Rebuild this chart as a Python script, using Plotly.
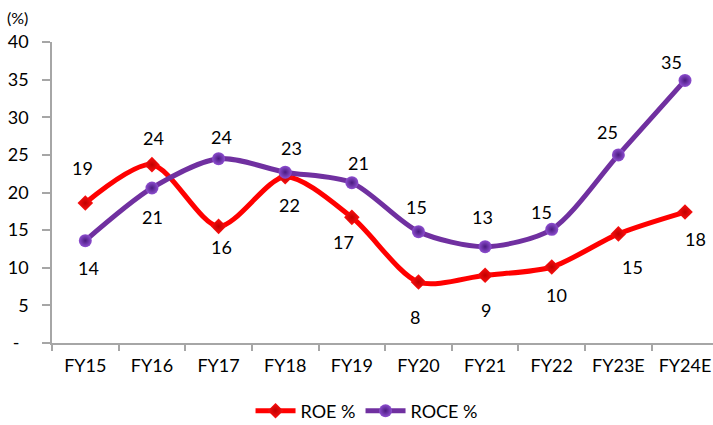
import plotly.graph_objects as go

categories = ["FY15", "FY16", "FY17", "FY18", "FY19", "FY20", "FY21", "FY22", "FY23E", "FY24E"]
roe = [18.6, 23.7, 15.5, 22.1, 16.7, 8.1, 9.0, 10.1, 14.5, 17.4]
roce = [13.6, 20.6, 24.5, 22.7, 21.3, 14.8, 12.8, 15.1, 25.0, 34.9]
roe_labels = ["19", "24", "16", "22", "17", "8", "9", "10", "15", "18"]
roce_labels = ["14", "21", "24", "23", "21", "15", "13", "15", "25", "35"]
y_ticks = [0, 5, 10, 15, 20, 25, 30, 35, 40]
y_tick_text = ["-\u00a0\u00a0", "5", "10", "15", "20", "25", "30", "35", "40"]

# label placement (style): pixel shifts from each point
ROE_DX = [-3, 2, 3, 4, -8, -3, 1, 5, 14, 10]
ROE_DY = [35, 27, -21, -28, -25, -35, -35, -28, -33, -27]
ROCE_DX = [3, 1, 3, 6, 7, -2, -3, -10, -11, -14]
ROCE_DY = [-27, -29, 22, 24, 20, 25, 30, 17, 23, 18]

FONT = "Lato, Carlito, Calibri, sans-serif"
FS = 18

fig = go.Figure()
fig.add_trace(go.Scatter(
    x=categories, y=roe, name="ROE %", mode="lines+markers",
    line=dict(color="#FF0000", width=5, shape="spline", smoothing=0.8),
    marker=dict(symbol="diamond", size=12, color="#FF1010",
                gradient=dict(type="radial", color="#C00000")),
))
fig.add_trace(go.Scatter(
    x=categories, y=roce, name="ROCE %", mode="lines+markers",
    line=dict(color="#7030A0", width=5, shape="spline", smoothing=0.8),
    marker=dict(symbol="circle", size=13, color="#8E4FD0",
                gradient=dict(type="radial", color="#4A1A80")),
))

annotations = []
for cat, v, t, dx, dy in zip(categories, roe, roe_labels, ROE_DX, ROE_DY):
    annotations.append(dict(x=cat, y=v, text=t, showarrow=False,
                            xshift=dx, yshift=dy,
                            font=dict(family=FONT, size=FS, color="#000")))
for cat, v, t, dx, dy in zip(categories, roce, roce_labels, ROCE_DX, ROCE_DY):
    annotations.append(dict(x=cat, y=v, text=t, showarrow=False,
                            xshift=dx, yshift=dy,
                            font=dict(family=FONT, size=FS, color="#000")))
annotations.append(dict(xref="paper", yref="paper", x=-0.052, y=1.083,
                        xanchor="center", yanchor="middle", text="(%)",
                        showarrow=False, font=dict(family=FONT, size=16, color="#000")))

fig.update_layout(
    width=713, height=425,
    margin=dict(l=52, r=0, t=42, b=82, autoexpand=False),
    paper_bgcolor="white", plot_bgcolor="white",
    font=dict(family=FONT, size=FS, color="#000"),
    showlegend=True,
    legend=dict(orientation="h", x=0.4766, y=-0.226, xanchor="center", yanchor="middle",
                font=dict(family=FONT, size=FS), itemwidth=40),
    annotations=annotations,
)
fig.update_xaxes(
    type="category", range=[-0.5, 9.42],
    showline=True, linecolor="#A6A6A6", linewidth=1.5,
    ticks="outside", tickson="boundaries", ticklen=6, tickcolor="#A6A6A6", tickwidth=1.5,
    ticklabelstandoff=6, ticklabeloverflow="allow",
    showgrid=False, zeroline=False,
    tickfont=dict(family=FONT, size=FS),
)
fig.update_yaxes(
    range=[0, 40], tickvals=y_ticks, ticktext=y_tick_text,
    showline=True, linecolor="#A6A6A6", linewidth=1.5,
    ticks="outside", ticklen=8, tickcolor="#A6A6A6", tickwidth=1.5,
    ticklabelstandoff=10,
    showgrid=False, zeroline=False,
    tickfont=dict(family=FONT, size=FS),
)

fig.write_html("out.html", config={"displayModeBar": False},
               post_script="document.body.style.margin='0';document.body.style.overflow='hidden';")
